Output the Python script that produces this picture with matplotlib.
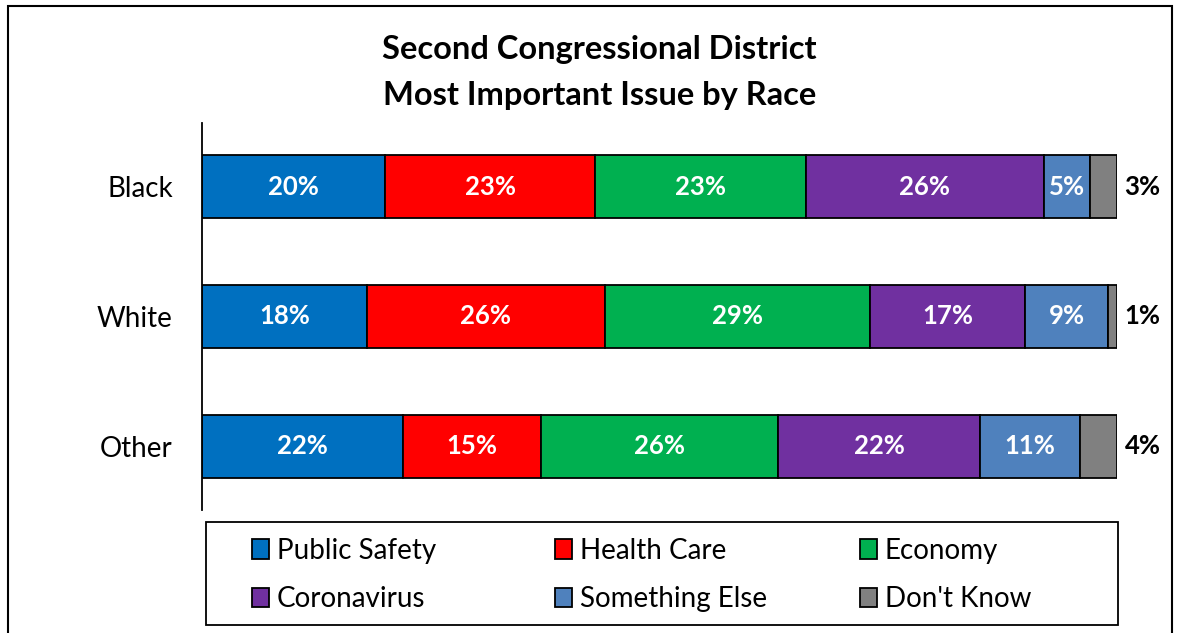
import matplotlib
matplotlib.use("Agg")
import matplotlib.pyplot as plt
from matplotlib.patches import Rectangle

plt.rcParams['font.family'] = ['Lato', 'DejaVu Sans']

races = ["Black", "White", "Other"]
issues = ["Public Safety", "Health Care", "Economy", "Coronavirus", "Something Else", "Don't Know"]
public_safety = [20, 18, 22]
health_care = [23, 26, 15]
economy = [23, 29, 26]
coronavirus = [26, 17, 22]
something_else = [5, 9, 11]
dont_know = [3, 1, 4]
series = [public_safety, health_care, economy, coronavirus, something_else, dont_know]
colors = ["#0070C0", "#FF0000", "#00B050", "#7030A0", "#4F81BD", "#808080"]

W, H = 1180, 633
fig = plt.figure(figsize=(W / 100, H / 100), dpi=100)
ax = fig.add_axes([0.1712, 0.1943, 0.7754, 0.6114])

ypos = list(range(len(races)))
left = [0] * len(races)
handles = []
for k, (vals, col) in enumerate(zip(series, colors)):
    bars = ax.barh(ypos, vals, left=left, height=0.49, color=col,
                   edgecolor="black", linewidth=1.3, label=issues[k])
    handles.append(bars)
    for i, v in enumerate(vals):
        if k == len(series) - 1:
            # last segment is labelled outside the bar
            ax.text(100 + 2.8, i, f"{v}%", ha="center", va="center",
                    fontsize=18.5, fontweight="bold", color="black")
        else:
            ax.text(left[i] + v / 2, i, f"{v}%", ha="center", va="center",
                    fontsize=18.5, fontweight="bold", color="white")
    left = [a + b for a, b in zip(left, vals)]

ax.set_xlim(0, 100)
ax.set_ylim(2.49, -0.49)
ax.set_yticks(ypos)
ax.set_yticklabels(races, fontsize=20)
ax.tick_params(axis="y", length=0, pad=21)
ax.set_xticks([])
for s in ["top", "right", "bottom"]:
    ax.spines[s].set_visible(False)
ax.spines["left"].set_linewidth(1.3)

fig.text(0.508, 1 - 50 / H, "Second Congressional District", ha="center", va="center",
         fontsize=23.5, fontweight="bold")
fig.text(0.508, 1 - 96 / H, "Most Important Issue by Race", ha="center", va="center",
         fontsize=23.5, fontweight="bold")

# legend: three columns, two rows, inside a plain box
fig.patches.append(Rectangle((206 / W, 1 - 625 / H), 912 / W, 103 / H,
                             transform=fig.transFigure, fill=False,
                             edgecolor="black", linewidth=1.3))
for c, x in enumerate([252, 555, 860]):
    fig.legend(handles=[handles[c], handles[c + 3]], loc="upper left",
               bbox_to_anchor=(x / W, 1 - 538 / H), frameon=False,
               fontsize=20, borderpad=0, borderaxespad=0,
               handlelength=0.6, handleheight=0.72, handletextpad=0.3,
               labelspacing=0.8)

# outer frame around the chart area
fig.patches.append(Rectangle((0.0068, -0.05), 0.9864, 1.04, transform=fig.transFigure,
                             fill=False, edgecolor="black", linewidth=1.5))

fig.savefig("out.png", dpi=100, facecolor="white")
